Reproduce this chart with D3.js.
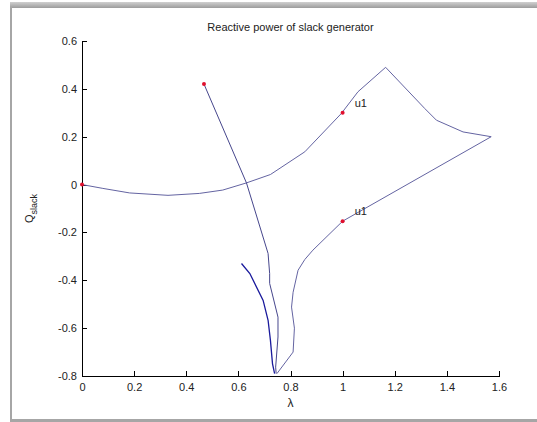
<!DOCTYPE html>
<html>
<head>
<meta charset="utf-8">
<script src="https://cdn.jsdelivr.net/npm/d3@7"></script>
<style>
  body { margin: 0; background: #fff; }
  text { font-family: "Liberation Sans", Arial, sans-serif; }
</style>
</head>
<body>
<div id="chart"></div>
<script>
// curve values: [lambda, Q]
var mainBranch = [
  [0, 0], [0.08, -0.016], [0.183, -0.035], [0.33, -0.045], [0.45, -0.037],
  [0.54, -0.023], [0.631, 0.007], [0.723, 0.042], [0.855, 0.137], [0.995, 0.297],
  [1.059, 0.388], [1.165, 0.49], [1.315, 0.318], [1.36, 0.269], [1.462, 0.22],
  [1.57, 0.2], [1.0, -0.153], [0.886, -0.274], [0.855, -0.313], [0.829, -0.358],
  [0.81, -0.45], [0.804, -0.512], [0.815, -0.6], [0.81, -0.7], [0.748, -0.79]
];
var secondBranch = [
  [0.468, 0.42], [0.631, 0.007], [0.714, -0.288], [0.72, -0.372], [0.72, -0.413],
  [0.752, -0.554], [0.752, -0.637], [0.743, -0.763], [0.745, -0.79]
];
var thirdBranch = [
  [0.612, -0.33], [0.644, -0.372], [0.695, -0.484], [0.714, -0.567],
  [0.723, -0.651], [0.731, -0.749], [0.739, -0.79]
];
var markers = [[0, 0], [0.468, 0.42], [1, 0.3], [1, -0.153]];
var labels = [{ x: 1, y: 0.3, text: "u1" }, { x: 1, y: -0.153, text: "u1" }];
var xTicks = [0, 0.2, 0.4, 0.6, 0.8, 1, 1.2, 1.4, 1.6];
var yTicks = [-0.8, -0.6, -0.4, -0.2, 0, 0.2, 0.4, 0.6];

var W = 537, H = 422;
var margin = { top: 41, left: 82, right: 38, bottom: 46 },
  width = W - margin.left - margin.right,
  height = H - margin.top - margin.bottom;

var svg = d3.select("#chart").append("svg")
  .attr("width", W)
  .attr("height", H);

// grey window frame
var grad = svg.append("defs").append("linearGradient")
  .attr("id", "band").attr("x1", 0).attr("x2", 0).attr("y1", 0).attr("y2", 1);
grad.append("stop").attr("offset", "0%").attr("stop-color", "#d0d0d0");
grad.append("stop").attr("offset", "100%").attr("stop-color", "#9c9c9c");
svg.append("rect").attr("x", 10).attr("y", 2).attr("width", W - 10).attr("height", 6).attr("fill", "url(#band)");
svg.append("rect").attr("x", 10).attr("y", 7).attr("width", 2).attr("height", H - 7).attr("fill", "#a6a6a6");
svg.append("rect").attr("x", 10).attr("y", 419).attr("width", W - 10).attr("height", 3).attr("fill", "#a6a6a6");

var g = svg.append("g")
  .attr("transform", "translate(" + margin.left + "," + margin.top + ")");

var x = d3.scaleLinear().domain([0, 1.6]).range([0, width]);
var y = d3.scaleLinear().domain([-0.8, 0.6]).range([height, 0]);
var fmt = function (d) { return String(Math.round(d * 10) / 10); };

var xAxis = g.append("g")
  .attr("transform", "translate(0," + height + ")")
  .call(d3.axisBottom(x).tickValues(xTicks).tickFormat(fmt).tickSizeInner(-5).tickSizeOuter(0).tickPadding(7));
var yAxis = g.append("g")
  .call(d3.axisLeft(y).tickValues(yTicks).tickFormat(fmt).tickSizeInner(-5).tickSizeOuter(0).tickPadding(5));

[xAxis, yAxis].forEach(function (a) {
  a.selectAll("text").attr("font-size", 11).attr("fill", "#222").attr("font-family", "Liberation Sans, Arial, sans-serif");
  a.selectAll("path, line").attr("stroke", "#000").attr("shape-rendering", "crispEdges");
});

var line = d3.line()
  .x(function (d) { return x(d[0]); })
  .y(function (d) { return y(d[1]); });

g.append("path").datum(mainBranch)
  .attr("d", line).attr("fill", "none").attr("stroke", "#6464a2").attr("stroke-width", 1);
g.append("path").datum(secondBranch)
  .attr("d", line).attr("fill", "none").attr("stroke", "#46468c").attr("stroke-width", 1);
g.append("path").datum(thirdBranch)
  .attr("d", line).attr("fill", "none").attr("stroke", "#1a1a9c").attr("stroke-width", 1.3);

g.selectAll(".dot")
  .data(markers)
  .enter().append("circle")
  .attr("class", "dot")
  .attr("cx", function (d) { return x(d[0]); })
  .attr("cy", function (d) { return y(d[1]); })
  .attr("r", 2)
  .attr("fill", "#e0102e");

g.selectAll(".lbl")
  .data(labels)
  .enter().append("text")
  .attr("class", "lbl")
  .attr("x", function (d) { return x(d.x) + 12; })
  .attr("y", function (d) { return y(d.y) - 6; })
  .attr("font-size", 11)
  .attr("fill", "#222")
  .text(function (d) { return d.text; });

// title and axis labels
svg.append("text")
  .attr("x", margin.left + width / 2)
  .attr("y", 31)
  .attr("text-anchor", "middle")
  .attr("font-size", 11)
  .attr("fill", "#222")
  .text("Reactive power of slack generator");

svg.append("text")
  .attr("x", margin.left + width / 2)
  .attr("y", 407)
  .attr("text-anchor", "middle")
  .attr("font-size", 12)
  .attr("fill", "#222")
  .text("λ");

var ylab = svg.append("text")
  .attr("transform", "translate(33," + (margin.top + height / 2) + ") rotate(-90)")
  .attr("text-anchor", "middle")
  .attr("font-size", 11)
  .attr("fill", "#222");
ylab.append("tspan").text("Q");
ylab.append("tspan").attr("font-size", 9).attr("dy", 4).text("slack");
</script>
</body>
</html>
